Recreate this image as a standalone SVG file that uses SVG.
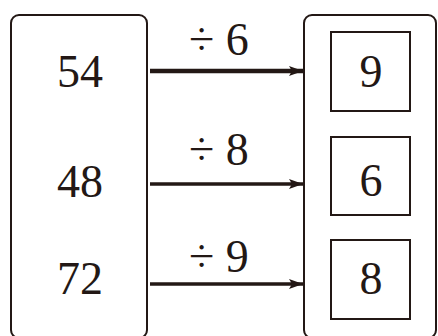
<svg xmlns="http://www.w3.org/2000/svg" width="438" height="336" viewBox="0 0 438 336">
<style>
.frame{fill:none;stroke:#231815;stroke-width:2}
.box{fill:none;stroke:#231815;stroke-width:2}
.t{font-family:"Liberation Serif","Times New Roman",serif;font-size:46px;fill:#231815}
.c{text-anchor:middle}
.arr{stroke:#231815;fill:none}
</style>
<defs>
<marker id="ah" markerUnits="userSpaceOnUse" markerWidth="14" markerHeight="10" refX="14" refY="5" orient="auto">
<path d="M0,0 L14,5 L0,10 L3,5 Z" fill="#231815"/>
</marker>
</defs>
<g id="left">
<rect class="frame" x="11" y="15" width="136" height="323" rx="8"/>
<text class="t c" x="80" y="87">54</text>
<text class="t c" x="80" y="197">48</text>
<text class="t c" x="80" y="294">72</text>
</g>
<g id="right">
<rect class="frame" x="304" y="15" width="132" height="323" rx="8"/>
<g id="r1"><rect class="box" x="331" y="32" width="79" height="79"/><text class="t c" x="371" y="87">9</text></g>
<g id="r2"><rect class="box" x="331" y="137" width="79" height="78"/><text class="t c" x="371" y="196">6</text></g>
<g id="r3"><rect class="box" x="331" y="240" width="79" height="79"/><text class="t c" x="371" y="294">8</text></g>
</g>
<g id="connectors">
<line class="arr" x1="150" y1="71" x2="303" y2="71" stroke-width="4.5" marker-end="url(#ah)"/>
<line class="arr" x1="150" y1="184" x2="303" y2="184" stroke-width="3.5" marker-end="url(#ah)"/>
<line class="arr" x1="150" y1="284" x2="303" y2="284" stroke-width="3.5" marker-end="url(#ah)"/>
<text class="t" x="189" y="55">÷ 6</text>
<text class="t" x="189" y="165">÷ 8</text>
<text class="t" x="189" y="272">÷ 9</text>
</g>
</svg>
